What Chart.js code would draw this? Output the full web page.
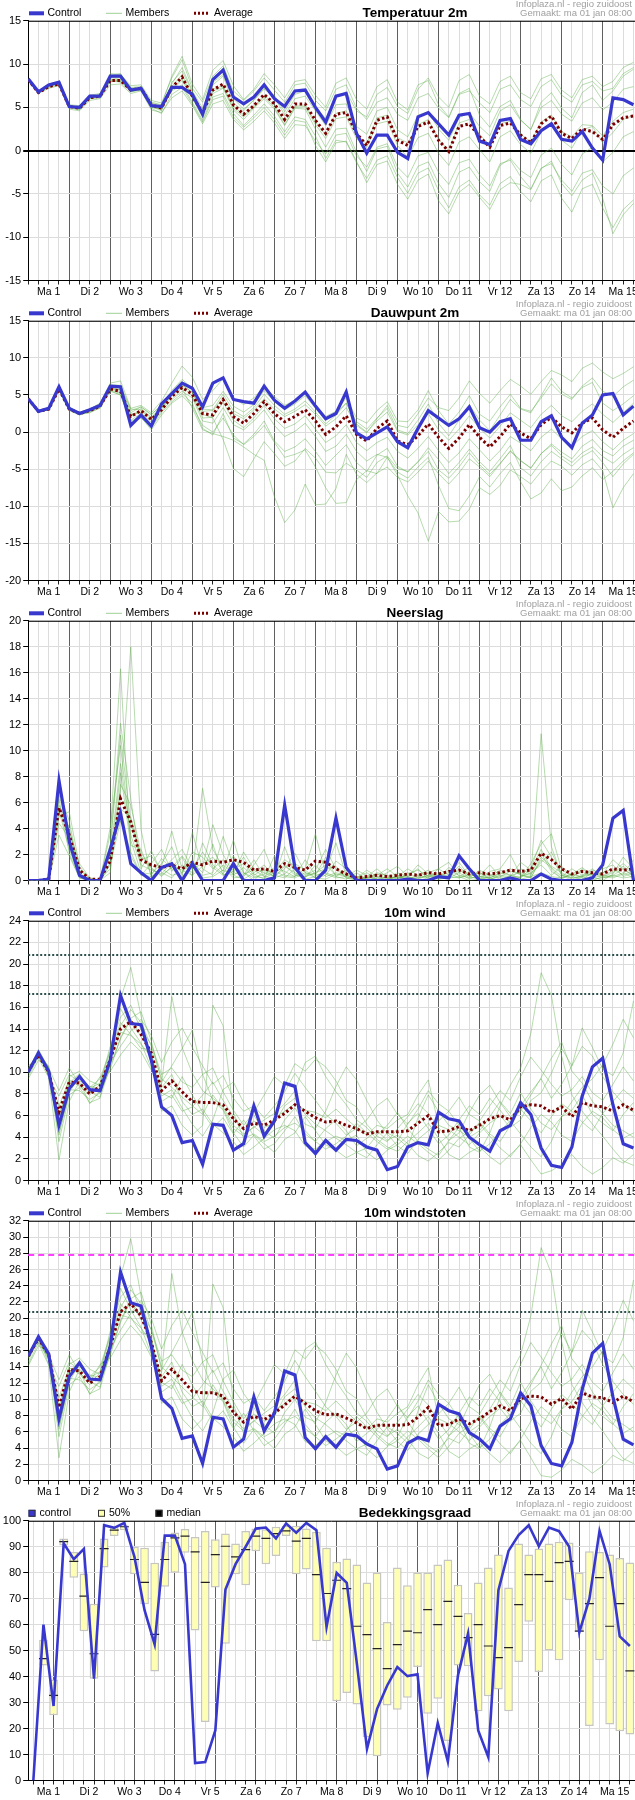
<!DOCTYPE html>
<html>
<head>
<meta charset="utf-8">
<title>Pluimverwachting</title>
<script src="https://cdn.jsdelivr.net/npm/chart.js@4.4.1/dist/chart.umd.min.js"></script>
<style>
body { margin: 0; background: #fff; }
canvas { display: block; }
</style>
</head>
<body>
<canvas id="temp" width="635" height="300"></canvas>
<canvas id="dew" width="635" height="300"></canvas>
<canvas id="rain" width="635" height="300"></canvas>
<canvas id="wind" width="635" height="300"></canvas>
<canvas id="gust" width="635" height="300"></canvas>
<canvas id="cloud" width="635" height="300"></canvas>
<script>
// 6-hourly steps, 4 per day, starting Ma 1 00h
const dayLabels = ['Ma 1', 'Di 2', 'Wo 3', 'Do 4', 'Vr 5', 'Za 6', 'Zo 7', 'Ma 8', 'Di 9', 'Wo 10', 'Do 11', 'Vr 12', 'Za 13', 'Zo 14', 'Ma 15'];

// Temperatuur 2m
const tempControl = [8.3,6.8,7.6,7.9, 5.1,5.0,6.3,6.3, 8.6,8.6,7.0,7.2, 5.2,5.1,7.3,7.3, 6.5,4.2,8.2,9.3, 6.2,5.4,6.2,7.6, 6.0,5.1,6.9,7.0, 5.0,3.3,6.3,6.6, 2.0,-0.3,1.8,1.8, -0.2,-0.9,3.9,4.4, 3.1,1.8,4.1,4.3, 1.1,0.7,3.5,3.7, 1.3,0.8,2.3,3.1, 1.3,1.1,2.2,0.3, -1.1,6.1,5.9,5.3];
const tempAverage = [8.2,6.7,7.4,7.7, 5.1,4.9,6.1,6.3, 8.1,8.1,7.0,7.2, 5.3,4.9,7.3,8.5, 6.3,4.4,7.0,7.7, 5.3,4.2,5.2,6.5, 5.4,3.6,5.4,5.4, 3.5,2.0,4.2,4.4, 2.0,0.6,3.5,3.9, 1.2,0.6,2.8,3.3, 1.2,-0.1,2.8,3.1, 1.6,0.4,2.9,3.2, 1.8,0.9,3.1,4.0, 2.0,1.4,2.5,2.2, 1.3,3.0,3.8,4.0];
const tempMembers = [
  [8.3,6.9,7.7,8.0, 5.3,5.2,6.4,6.6, 8.9,8.8,7.5,7.6, 5.8,5.5,8.4,10.5, 7.2,5.6,8.6,9.8, 6.9,5.8,6.9,8.4, 7.0,5.6,7.6,7.8, 5.8,4.6,7.1,7.6, 4.9,3.6,5.6,6.1, 4.2,3.5,6.1,6.6, 4.9,3.8,6.5,6.9, 5.5,4.4,7.1,7.6, 5.9,5.1,7.4,8.2, 6.4,5.6,7.6,8.0, 6.9,7.2,8.9,9.6],
  [8.1,6.6,7.2,7.5, 4.8,4.6,5.8,6.0, 7.6,7.7,6.6,6.9, 4.7,4.4,6.1,6.9, 5.2,3.1,5.4,5.8, 3.6,2.4,3.4,4.6, 3.2,1.4,3.0,2.9, 1.1,-0.4,1.8,2.0, -0.6,-1.9,0.4,0.8, -1.9,-3.1,-0.6,-0.2, -2.5,-3.9,-1.4,-1.0, -2.8,-4.1,-1.5,-1.1, -3.0,-4.4,-2.0,-1.5, -3.4,-4.7,-2.6,-2.2, -4.1,-5.0,-2.9,-2.0],
  [8.2,6.7,7.5,7.7, 5.0,4.8,6.2,6.2, 8.3,8.0,7.1,7.3, 5.1,4.6,7.9,9.2, 6.8,4.0,7.6,8.6, 5.5,4.6,5.9,7.1, 6.2,4.1,6.0,6.3, 4.6,2.9,5.3,5.4, 2.8,1.9,4.6,5.0, 2.4,1.6,4.1,4.5, 2.5,1.2,3.8,4.4, 2.8,1.7,4.6,5.3, 3.5,2.5,5.0,5.8, 4.2,3.4,5.5,6.1, 4.7,5.6,7.1,7.4],
  [8.3,6.8,7.4,7.8, 5.0,5.1,6.1,6.5, 8.0,8.3,6.9,7.0, 5.0,4.8,6.9,7.6, 5.6,3.5,6.2,6.6, 4.3,2.9,4.1,5.4, 4.0,2.2,3.9,3.6, 1.7,-0.9,1.2,1.0, -1.4,-3.2,-1.1,-0.6, -3.1,-4.9,-2.6,-2.0, -4.6,-6.6,-4.2,-3.4, -5.1,-6.3,-3.8,-3.0, -4.7,-5.9,-3.5,-2.8, -5.5,-7.1,-4.4,-3.9, -6.6,-8.9,-6.8,-5.7],
  [8.2,6.6,7.6,7.9, 5.2,4.9,6.0,6.3, 8.4,8.5,7.3,7.4, 5.5,5.2,7.7,9.6, 6.9,4.9,7.9,8.8, 6.0,4.8,5.8,7.2, 6.4,4.5,6.5,6.9, 5.1,3.7,6.2,6.8, 4.6,3.9,6.5,7.3, 5.1,4.3,7.1,8.4, 6.2,5.0,8.1,8.8, 6.3,5.4,8.0,8.6, 6.7,6.0,8.3,8.8, 7.0,6.1,8.2,8.6, 7.4,8.0,9.6,10.2],
  [8.2,6.7,7.3,7.6, 5.0,4.7,6.0,6.1, 8.2,8.1,6.8,7.1, 5.2,4.7,7.4,8.8, 6.1,3.8,6.6,7.2, 4.7,3.6,4.9,6.0, 4.8,2.9,5.0,5.1, 3.0,1.4,3.7,3.9, 1.4,0.4,3.1,3.4, 0.6,-0.8,1.5,2.0, -0.3,-1.7,1.0,1.6, 0.1,-1.3,1.6,2.3, 0.7,-0.3,2.2,3.0, 1.2,0.3,2.4,2.8, 0.9,2.1,3.6,4.1],
  [8.3,6.8,7.6,7.7, 5.1,5.0,6.4,6.4, 8.5,8.2,7.0,7.2, 5.4,4.9,7.0,8.1, 6.0,4.2,6.9,7.3, 4.9,3.9,5.0,6.2, 5.0,3.0,4.9,4.8, 2.5,0.4,2.5,2.6, -0.2,-2.4,0.2,0.5, -2.6,-4.2,-1.8,-1.3, -3.8,-5.4,-2.5,-1.9, -3.6,-4.7,-1.7,-0.9, -2.3,-3.1,-0.5,0.3, -1.6,-2.8,-0.4,0.4, -1.3,-0.2,1.6,2.2],
  [8.1,6.6,7.5,7.9, 5.2,4.9,6.3,6.4, 8.7,8.9,7.2,7.3, 5.6,5.3,8.6,10.9, 7.7,5.9,9.3,10.4, 7.5,5.9,7.1,8.9, 7.6,6.1,8.0,8.2, 6.4,5.0,7.8,8.4, 5.9,4.8,7.4,8.2, 5.6,4.7,7.6,8.1, 5.3,3.9,6.6,7.2, 4.1,2.7,5.1,5.8, 3.6,2.4,5.6,6.7, 4.9,3.8,6.7,7.6, 5.8,6.9,8.6,9.4],
  [8.2,6.7,7.5,7.8, 5.0,4.9,6.2,6.3, 8.0,8.0,6.9,7.2, 5.0,4.9,7.2,8.3, 6.3,4.5,7.1,7.5, 5.2,4.1,5.1,6.4, 5.3,3.3,5.1,5.3, 3.3,1.8,4.3,4.6, 1.8,0.8,3.8,4.1, 1.5,0.9,3.0,3.6, 1.3,0.0,3.2,3.6, 1.9,0.6,3.1,3.4, 1.9,1.0,3.3,4.1, 2.2,1.6,3.0,2.9, 1.7,3.4,4.4,4.8],
  [8.3,6.7,7.4,7.7, 5.1,4.8,6.1,6.2, 8.1,7.9,6.8,7.0, 4.9,4.3,6.5,7.3, 5.4,3.3,5.9,6.3, 3.9,2.7,3.8,5.0, 3.6,1.8,3.5,3.3, 0.6,-1.3,0.9,1.1, -1.2,-3.7,-1.6,-1.2, -3.9,-5.6,-3.4,-2.7, -5.8,-7.3,-4.8,-3.9, -5.4,-6.8,-4.5,-3.7, -3.9,-4.5,-2.1,-1.2, -3.8,-5.2,-3.4,-2.6, -5.5,-9.6,-7.4,-6.1]
];

// Dauwpunt 2m
const dewControl = [4.5,2.8,3.2,6.1, 3.2,2.5,3.0,3.6, 6.2,6.1,0.9,2.3, 0.8,3.8,5.2,6.6, 5.9,3.4,6.6,7.3, 4.4,4.1,3.9,6.2, 4.3,3.2,4.2,5.4, 3.5,1.8,2.5,5.4, -0.1,-0.9,-0.1,0.7, -1.3,-2.1,0.5,2.9, 1.9,0.9,1.8,3.4, 0.6,0.0,1.4,1.8, -1.1,-1.1,1.4,2.2, -0.7,-2.1,1.2,2.3, 5.0,5.2,2.3,3.5];
const dewAverage = [4.5,2.8,3.1,5.8, 3.1,2.5,2.9,3.5, 5.8,5.5,2.1,2.9, 1.7,3.0,4.8,6.0, 5.1,2.5,2.3,4.4, 2.1,1.2,2.5,4.1, 2.5,1.4,2.1,3.0, 1.5,-0.3,0.7,2.2, -0.3,-1.2,0.5,1.5, -1.2,-1.7,-0.5,1.1, -0.7,-2.2,-0.8,1.0, -0.7,-2.0,-0.6,1.1, -0.1,-0.9,1.0,2.0, 0.7,-0.1,1.2,1.9, 0.3,-0.7,0.5,1.5];
const dewMembers = [
  [4.6,2.9,3.3,6.3, 3.3,2.7,3.1,3.9, 6.6,6.9,3.2,3.6, 2.6,4.2,6.6,8.9, 7.4,4.4,5.6,7.2, 4.6,3.7,4.6,6.2, 4.8,3.6,4.3,5.4, 3.6,2.1,2.8,4.6, 1.9,1.2,2.9,4.1, 1.5,1.4,3.0,5.6, 2.9,1.1,2.7,4.9, 2.4,1.5,3.4,5.1, 3.2,2.8,4.6,6.5, 5.1,4.4,6.2,7.3, 5.5,4.8,6.1,7.0],
  [4.5,2.7,3.0,5.6, 2.9,2.3,2.7,3.2, 5.5,5.0,1.3,1.9, 0.6,2.6,4.1,5.2, 3.9,0.5,-0.4,2.5, -0.8,-1.6,-0.3,1.5, -1.2,-2.6,-2.0,-0.9, -2.6,-4.5,-3.1,-1.7, -4.1,-5.3,-3.1,-2.2, -4.6,-5.4,-4.0,-2.6, -5.1,-6.2,-4.7,-2.8, -4.4,-5.7,-4.2,-2.6, -3.9,-4.8,-2.9,-1.8, -3.2,-4.1,-2.8,-2.0, -3.3,-4.2,-3.0,-2.1],
  [4.4,2.8,3.2,5.9, 3.0,2.4,2.8,3.4, 5.9,5.3,2.4,2.6, 1.3,3.1,4.9,5.9, 3.2,0.3,-0.2,-0.6, -1.1,-2.0,-3.0,-3.8, -8.7,-12.2,-10.5,-7.0, -9.8,-9.7,-7.6,-3.0, -5.7,-6.8,-5.5,-4.7, -6.1,-6.7,-5.4,-3.9, -5.6,-7.0,-5.5,-3.6, -4.7,-6.0,-4.3,-2.5, -3.8,-4.9,-2.9,-1.6, -2.7,-3.6,-1.9,-1.0, -2.5,-3.2,-1.9,-1.1],
  [4.5,2.8,3.0,5.7, 3.1,2.6,3.0,3.4, 6.0,5.6,2.6,3.4, 2.4,3.6,5.4,6.8, 6.0,3.1,3.0,5.1, 2.9,2.1,3.3,5.1, 3.6,2.4,3.1,4.2, 2.7,1.1,2.3,3.9, 1.4,0.4,1.9,3.2, 0.3,-0.2,1.6,3.8, 1.2,-0.5,1.6,3.7, 1.6,0.2,2.3,4.4, 3.1,2.6,4.9,7.3, 5.5,4.6,6.0,6.7, 3.9,2.9,3.8,4.9],
  [4.6,2.9,3.1,5.8, 3.2,2.5,2.8,3.5, 5.7,5.2,1.6,2.5, 1.0,2.8,4.4,5.5, 4.6,1.5,1.2,3.3, 1.0,0.3,1.5,3.0, 0.9,-0.6,0.1,1.2, -0.6,-2.6,-1.9,-0.3, -2.6,-3.9,-3.0,-3.4, -5.8,-8.6,-10.9,-14.7, -10.7,-12.1,-12.0,-10.4, -7.5,-8.4,-7.2,-5.1, -6.0,-7.0,-5.3,-3.9, -4.6,-5.8,-4.4,-3.6, -5.2,-10.2,-7.5,-5.6],
  [4.5,2.8,3.2,6.0, 3.2,2.6,3.1,3.7, 6.3,6.1,2.9,3.4, 2.3,3.7,5.6,7.1, 5.9,3.3,3.6,5.5, 3.5,2.7,3.7,5.6, 4.1,3.0,3.8,4.9, 3.2,1.6,2.6,3.9, 1.1,0.0,1.5,2.7, 0.1,-0.4,1.0,2.5, 0.3,-1.1,0.4,2.2, 0.5,-0.8,0.8,2.6, 1.6,0.6,2.4,3.6, 2.2,1.4,2.8,3.8, 2.4,1.3,2.6,3.9],
  [4.4,2.7,3.1,5.9, 3.0,2.4,2.9,3.6, 5.8,5.7,2.0,3.2, 2.0,3.4,5.1,6.3, 5.4,2.8,2.9,4.6, 2.5,1.8,3.0,4.5, 3.1,2.1,2.8,3.7, 2.4,0.8,1.8,3.3, 0.9,-0.1,1.8,3.6, 0.9,0.6,2.5,4.6, 3.3,2.9,4.6,6.9, 5.2,3.9,5.6,7.1, 6.2,5.1,6.8,8.3, 7.7,6.8,8.6,9.3, 8.1,7.2,7.9,8.8],
  [4.5,2.8,3.1,5.7, 3.0,2.4,2.6,3.3, 5.6,5.0,1.5,2.0, 0.3,2.3,3.9,4.9, 3.5,0.9,0.0,1.9, -0.4,-1.7,-0.6,0.9, -1.4,-3.4,-3.0,-2.4, -4.7,-7.5,-9.6,-9.5, -6.4,-5.2,-5.6,-3.4, -5.4,-6.2,-4.7,-3.4, -7.2,-10.3,-10.6,-8.6, -6.0,-7.4,-5.6,-4.1, -6.7,-9.0,-8.2,-6.3, -7.9,-7.4,-5.9,-4.8, -6.4,-5.3,-3.9,-2.8],
  [4.6,2.9,3.3,6.2, 3.3,2.6,3.1,3.8, 6.4,6.3,3.1,3.0, 1.9,3.3,5.0,6.1, 4.9,1.9,2.0,4.0, 1.6,0.6,1.9,3.6, 1.8,0.5,1.1,2.2, 0.4,-1.4,-0.5,1.0, -1.4,-2.5,-1.4,-0.7, -2.6,-3.5,-2.2,-0.6, -2.5,-4.1,-2.8,-0.9, -2.4,-3.9,-2.5,-0.6, -1.5,-2.5,-0.7,0.4, -0.9,-1.9,-0.6,0.2, -1.3,-2.4,-1.1,-0.2],
  [4.5,2.7,3.0,5.8, 3.1,2.5,3.0,3.6, 6.1,5.7,2.2,2.9, 1.6,3.2,5.3,6.4, 5.3,2.4,1.9,-1.0, -4.9,-6.0,-3.6,-1.3, -2.9,-4.6,-3.9,-2.2, -3.5,-5.4,-5.5,-4.2, -5.1,-6.1,-4.1,-3.2, -4.9,-5.3,-4.0,-2.1, -3.7,-5.6,-4.1,-2.3, -4.0,-5.3,-3.6,-1.8, -4.8,-5.9,-4.0,-2.6, -3.6,-4.6,-3.3,-2.5, -4.1,-6.0,-4.3,-3.0]
];

// Neerslag
const rainControl = [0,0,0.1,7.7, 3.0,0.4,0,0, 2.4,5.2,1.3,0.6, 0,1.0,1.3,0, 1.3,0,0,0, 1.3,0,0,0, 0.2,5.8,1.0,0, 0,0.8,4.8,1.0, 0,0,0,0, 0,0.1,0,0, 0.3,0.2,1.9,0.9, 0,0,0,0.2, 0,0,0.5,0.1, 0,0,0,0.2, 1.2,4.8,5.4,0];
const rainAverage = [0,0,0.1,5.6, 3.5,0.8,0.1,0.1, 1.5,6.3,4.5,1.6, 1.2,1.0,1.2,0.9, 1.4,1.2,1.5,1.4, 1.6,1.4,0.8,0.9, 0.7,1.3,1.0,0.8, 1.5,1.4,0.9,0.5, 0.2,0.3,0.4,0.3, 0.4,0.5,0.4,0.6, 0.5,0.7,0.8,0.5, 0.6,0.5,0.6,0.8, 0.7,0.8,2.1,1.6, 0.9,0.5,0.7,0.6, 0.5,0.9,0.8,0.9];
const rainMembers = [
  [0,0,0.1,5.8, 4.1,0.6,0,0, 1.9,9.0,3.5,1.2, 0.8,0.5,1.4,0.6, 2.2,1.8,0.9,1.6, 0.4,1.0,0.3,0.2, 0.6,1.6,1.1,0.4, 0.8,2.4,0.9,0.2, 0,0.3,0.9,0.2, 0,0.5,0.8,0.3, 0.2,0.4,1.1,0.3, 0.6,0.2,0,0.4, 0.2,0.9,3.1,1.8, 0.4,0,0.3,0.8, 0.5,1.6,0.9,0.4],
  [0,0,0,8.1, 2.7,0.3,0.1,0, 3.6,16.3,1.9,0.4, 1.3,2.4,0.7,1.8, 0.3,2.9,1.2,0.5, 1.9,0.6,0,0.8, 0.3,0.9,2.1,0.6, 0.2,0.4,1.5,0.9, 0.3,0,0.2,0.6, 1.1,0.3,0,0.2, 0.9,1.4,0.3,0, 0.1,0.7,0.9,2.0, 0.4,0.3,11.3,2.6, 0.4,0.2,0.9,0.3, 0,0.5,1.8,0.9],
  [0,0,0.2,4.9, 5.3,1.1,0,0.1, 0.9,6.8,18.0,3.9, 0.2,1.1,3.8,0.9, 1.4,0.6,2.8,0.4, 0.7,1.8,0.5,0.1, 1.9,0.4,0.3,0.9, 3.6,0.5,0.2,0.3, 0.8,0.4,0,0.1, 0.3,0.9,0.4,0.8, 0.1,0.2,0.6,1.0, 0.2,0.1,0.4,0.3, 1.4,0.8,2.4,0.9, 0.1,0.6,0.2,0, 0.3,0.2,0.5,1.6],
  [0,0,0,6.3, 2.1,0.2,0,0, 2.8,12.1,6.3,0.9, 2.3,0.6,0.2,1.2, 0.6,7.1,2.4,1.0, 0.2,0.3,1.2,2.4, 0.4,0.2,0.9,0.3, 0.6,1.2,0.4,0.6, 0.1,0.2,0.4,0.9, 0.3,0.1,0.2,0.4, 0.5,0.3,0.9,0.2, 0.8,0.4,0.1,0.2, 0.3,0.6,1.2,0.4, 1.1,0.3,0.1,0.6, 0.2,0.4,0.9,0.3],
  [0,0,0.1,7.2, 3.6,0.8,0.2,0, 1.4,8.3,2.7,2.4, 0.4,1.7,0.9,0.3, 1.1,0.4,0.6,3.4, 1.2,0.5,0.8,0.3, 0.2,2.6,0.5,0.1, 0.3,0.8,2.9,0.4, 0.2,0.6,0.1,0.3, 0.2,0.4,0.9,0.1, 0.3,0.6,0.2,0.5, 0.3,0.2,0.6,0.4, 0.2,1.3,2.8,3.6, 0.8,0.4,0.7,0.2, 0.4,0.3,0.6,0.2],
  [0,0,0,4.4, 3.3,0.4,0,0, 2.2,5.5,4.9,1.6, 1.9,0.8,1.6,2.4, 0.9,1.3,1.8,0.7, 3.1,0.6,0.2,0.5, 1.0,0.7,0.3,1.6, 0.4,0.6,0.3,0.1, 0.6,0.1,0.3,0.2, 0.6,0.3,1.2,0.5, 0.2,1.0,0.6,0.1, 0.4,1.2,0.3,0.7, 0.5,0.2,1.6,1.0, 0.3,0.9,0.4,0.5, 0.9,1.2,0.3,0.6],
  [0,0,0.1,6.8, 4.6,0.5,0.1,0, 4.1,10.4,3.1,0.6, 0.5,1.3,2.6,0.4, 3.7,0.9,0.4,1.2, 0.5,2.2,0.9,0.6, 0.3,1.1,0.6,0.2, 1.2,0.3,0.6,0.4, 0.2,0.8,0.3,0, 0.4,0.2,0.3,0.6, 0.9,0.4,1.4,0.3, 0.1,0.3,0.8,0.4, 0.6,0.4,2.1,0.7, 0.2,0.5,1.0,0.4, 0.6,0.9,0.4,0.8],
  [0,0,0,5.4, 2.4,0.3,0,0, 0.6,7.4,5.8,2.1, 1.0,0.3,1.1,0.8, 0.4,1.1,4.3,2.0, 0.6,0.4,1.6,0.3, 0.8,0.3,0.2,0.6, 0.4,1.8,0.3,0.8, 0.3,0.1,0.6,0.4, 0.1,0.6,0.2,0.3, 0.4,0.2,0.3,0.7, 0.3,0.5,0.2,0.1, 0.9,0.5,1.4,2.2, 0.5,0.1,0.4,0.9, 0.3,0.6,1.1,0.5],
  [0,0,0,3.5, 1.9,0.2,0,0, 1.2,4.6,2.2,0.4, 0.3,0.9,0.4,0.6, 1.6,0.2,0.3,0.8, 0.4,0.1,0.6,1.2, 0.2,0.5,1.3,0.8, 0.2,0.1,0.5,0.3, 0.1,0.3,0.1,0.2, 0.3,0.1,0.4,0.2, 0.1,0.3,0.2,0.4, 0.6,0.1,0.3,0.2, 0.1,0.3,0.6,0.3, 0.2,0.4,0.3,0.1, 0.2,0.4,0.2,0.3],
  [0,0,0,6.6, 3.8,1.3,0.2,0, 2.6,11.2,4.4,1.9, 0.9,0.4,1.0,1.9, 0.8,2.2,1.0,0.4, 0.9,1.3,0.4,0.9, 0.5,1.2,0.4,0.3, 0.6,0.9,1.1,0.2, 0.1,0.2,0.5,0.1, 0.2,0.3,0.1,0.4, 0.2,0.8,0.4,0.2, 0.3,0.2,0.5,0.9, 0.4,0.2,1.8,1.1, 0.6,0.2,0.3,0.5, 0.4,0.7,1.3,0.6]
];

// 10m wind
const windControl = [10.0,11.8,10.1,5.1, 8.5,9.6,8.4,8.3, 11.1,17.1,14.5,14.4, 11.1,6.8,6.0,3.5, 3.7,1.5,5.2,5.1, 2.8,3.4,6.9,4.1, 5.5,9.0,8.7,3.5, 2.5,3.7,2.8,3.8, 3.7,3.1,2.8,1.0, 1.3,3.1,3.5,3.3, 6.3,5.7,5.5,4.0, 3.3,2.7,4.6,5.1, 7.2,6.1,3.0,1.4, 1.2,3.1,7.8,10.5, 11.3,7.0,3.4,3.0];
const windAverage = [10.1,11.6,10.0,6.3, 9.1,9.0,8.0,8.7, 11.2,14.0,14.7,13.5, 11.8,8.3,9.2,8.2, 7.3,7.2,7.2,7.0, 5.7,4.8,5.3,5.1, 5.6,6.2,7.0,6.4, 5.8,5.4,5.5,5.1, 4.8,4.3,4.5,4.5, 4.5,4.6,5.3,6.0, 4.5,4.6,5.0,4.6, 5.1,5.7,6.0,5.6, 6.8,7.0,6.9,6.3, 6.8,5.9,7.2,6.9, 6.8,6.4,7.0,6.5];
const windMembers = [
  [10.2,11.5,9.8,6.9, 9.3,8.7,7.9,8.9, 12.4,15.1,16.2,13.9, 12.6,9.8,10.4,9.1, 8.6,9.8,10.4,8.2, 6.5,5.1,6.3,7.9, 9.6,8.8,10.8,10.1, 11.2,10.5,9.2,7.4, 6.8,5.2,4.1,3.6, 4.8,5.9,7.1,6.2, 4.9,3.7,4.4,6.3, 7.9,8.8,7.2,5.9, 6.4,7.9,9.5,11.3, 12.8,10.1,9.0,7.3, 6.2,5.1,4.6,4.0],
  [9.4,11.1,10.6,4.2, 8.4,8.3,7.5,8.1, 10.3,13.2,15.0,15.6, 12.9,9.1,10.6,12.2, 13.9,9.8,7.4,6.5, 4.4,3.1,4.2,3.4, 2.6,3.8,4.4,5.9, 4.6,3.3,2.8,2.1, 2.6,3.0,4.2,5.1, 6.3,4.8,3.6,2.9, 2.3,3.7,4.9,3.1, 2.6,4.4,6.9,8.8, 10.4,13.6,19.2,17.1, 11.5,7.9,6.4,5.2, 4.1,2.9,1.8,1.4],
  [10.4,11.9,9.6,1.9, 7.3,9.2,8.6,9.4, 12.0,16.8,19.7,15.2, 11.0,7.8,8.4,6.7, 5.2,4.1,5.6,8.4, 9.1,7.2,6.0,4.6, 3.9,5.6,6.7,5.2, 4.8,6.4,8.7,10.5, 9.3,7.4,5.6,4.3, 3.2,2.5,3.8,4.6, 5.5,6.4,5.1,3.9, 2.7,3.4,4.6,5.5, 4.3,3.1,2.2,3.6, 5.9,7.3,8.6,9.4, 10.7,12.6,14.9,13.2],
  [10.0,11.7,10.3,5.6, 9.0,9.9,8.2,7.7, 11.6,15.9,14.1,12.7, 10.4,8.6,9.8,7.3, 6.1,6.6,5.2,4.4, 3.6,2.4,3.1,3.9, 4.7,5.1,4.6,3.2, 2.9,3.6,4.1,3.7, 4.2,2.6,1.9,2.8, 3.3,4.1,3.4,2.6, 1.9,2.8,3.9,4.5, 5.2,4.1,3.0,2.2, 3.4,4.9,6.1,5.4, 4.2,3.6,5.3,6.4, 5.8,4.7,3.9,4.4],
  [10.6,11.3,9.5,7.8, 9.8,9.1,7.1,8.3, 10.9,12.4,13.8,14.9, 13.4,10.9,12.8,14.1, 12.3,10.6,8.9,9.7, 7.6,6.4,6.9,5.8, 6.9,8.2,9.9,8.6, 7.4,6.1,5.3,4.2, 4.8,5.6,6.9,7.6, 6.1,5.2,6.6,8.3, 7.1,6.4,7.7,6.1, 5.5,6.9,8.3,7.4, 9.6,11.4,10.2,8.9, 7.8,8.4,9.6,8.1, 7.4,8.9,10.5,9.2],
  [9.8,11.9,10.2,6.1, 8.9,9.4,8.7,8.5, 11.3,13.7,13.4,12.6, 11.4,7.3,7.9,6.4, 6.8,7.9,9.1,7.4, 5.9,4.7,5.5,4.9, 5.3,6.9,7.6,6.1, 5.2,4.6,3.9,3.3, 2.6,2.1,3.3,4.4, 3.9,3.1,5.8,7.9, 6.4,5.1,4.6,4.0, 4.6,5.9,7.3,6.2, 8.1,6.6,5.3,4.7, 5.9,6.5,7.9,6.1, 5.3,4.6,6.1,7.2],
  [10.1,12.1,10.4,8.3, 10.4,8.9,8.1,9.6, 10.1,11.6,12.8,11.9, 10.2,8.9,17.0,12.3, 9.9,8.3,7.6,6.8, 5.1,4.3,4.9,5.6, 6.2,7.1,8.3,10.9, 11.5,9.6,8.2,7.0, 5.6,4.9,3.8,3.1, 2.7,3.6,4.4,5.3, 3.9,2.4,1.9,2.6, 3.1,2.2,1.5,2.4, 3.3,1.9,0.6,0.9, 1.5,2.4,1.3,0.6, 1.2,2.1,1.6,2.4],
  [10.3,11.6,9.9,4.4, 8.1,9.7,8.5,9.0, 11.9,14.6,13.5,12.2, 12.1,6.4,6.9,5.1, 4.2,5.1,16.2,14.3, 6.3,3.9,4.3,3.6, 4.1,4.9,5.3,4.6, 3.6,2.9,3.4,4.1, 5.3,4.4,3.6,2.9, 3.6,5.3,6.2,4.8, 3.4,4.2,5.6,6.9, 6.1,7.6,6.5,5.3, 6.9,8.2,9.4,7.6, 8.9,10.6,12.4,11.5, 9.6,8.2,7.1,6.3],
  [9.6,11.4,10.1,3.6, 7.9,8.6,7.2,7.6, 10.6,13.1,14.9,13.3, 11.7,8.1,7.6,9.6, 7.9,6.3,4.9,5.8, 4.3,5.6,4.1,2.9, 3.4,4.6,5.9,4.3, 3.6,4.8,5.6,4.6, 3.2,3.9,4.6,3.7, 4.2,3.4,2.3,1.8, 2.6,3.5,3.1,4.2, 5.4,4.3,3.6,5.1, 6.6,5.5,4.4,5.9, 7.1,6.4,5.4,4.6, 6.2,7.3,8.4,7.6],
  [10.2,11.8,10.5,5.3, 9.6,10.1,9.2,8.8, 11.4,14.3,15.8,14.6, 12.4,9.4,8.6,7.7, 6.9,6.1,7.9,6.6, 4.8,4.1,5.0,4.2, 5.8,6.4,7.1,6.5, 6.3,5.8,6.6,5.7, 4.9,4.2,5.1,4.8, 5.6,6.1,7.9,9.3, 5.1,4.7,4.0,3.3, 4.4,5.3,6.0,4.9, 5.6,7.4,8.1,9.9, 12.2,10.6,14.1,12.3, 10.3,9.7,11.8,16.6]
];
const windThresholds = [17.2, 20.8];

// 10m windstoten
const gustControl = [15.3,17.7,15.6,7.6, 12.8,14.5,12.5,12.4, 16.5,25.7,21.9,21.5, 16.5,10.1,8.9,5.2, 5.5,2.1,7.8,7.6, 4.1,5.1,10.3,6.1, 8.3,13.5,13.0,5.3, 3.9,5.4,4.1,5.7, 5.5,4.5,3.9,1.4, 1.8,4.6,5.3,4.9, 9.4,8.6,8.2,5.9, 5.1,3.9,6.7,7.6, 10.8,9.2,4.3,2.1, 1.8,4.7,11.2,15.7, 16.9,10.3,5.1,4.4];
const gustAverage = [15.3,17.5,15.5,9.0, 13.7,13.5,12.0,12.8, 16.5,20.8,21.8,20.3, 17.0,12.3,13.7,12.4, 11.0,10.8,10.8,10.4, 8.4,7.2,7.9,7.5, 8.3,9.3,10.4,9.5, 8.6,8.1,8.2,7.7, 7.1,6.4,6.8,6.8, 6.8,6.9,7.8,9.0, 6.8,6.9,7.6,7.0, 7.6,8.5,9.2,8.6, 10.1,10.4,10.3,9.4, 10.1,8.8,10.8,10.3, 10.2,9.6,10.4,9.7];
const gustMembers = [
  [15.5,17.3,15.1,10.2, 13.9,13.1,11.8,13.3, 18.4,22.6,24.1,20.7, 18.6,14.7,15.5,13.6, 12.8,14.6,15.5,12.3, 9.7,7.6,9.4,11.8, 14.3,13.1,16.1,15.0, 16.7,15.6,13.7,11.0, 10.1,7.8,6.1,5.4, 7.2,8.8,10.6,9.3, 7.3,5.5,6.6,9.4, 11.8,13.1,10.7,8.8, 9.6,11.8,14.2,16.8, 19.1,15.0,13.4,10.9, 9.2,7.6,6.9,6.0],
  [14.1,16.6,15.8,6.3, 12.6,12.4,11.2,12.1, 15.4,19.7,22.4,23.2, 19.2,13.6,15.8,18.2, 20.7,14.6,11.0,9.7, 6.6,4.6,6.3,5.1, 3.9,5.7,6.6,8.8, 6.9,4.9,4.2,3.1, 3.9,4.5,6.3,7.6, 9.4,7.2,5.4,4.3, 3.4,5.5,7.3,4.6, 3.9,6.6,10.3,13.1, 15.5,20.3,28.7,25.5, 17.1,11.8,9.6,7.7, 6.1,4.3,2.7,2.1],
  [15.6,17.8,14.3,2.8, 10.9,13.7,12.8,14.0, 17.9,25.1,29.8,22.7, 16.4,11.6,12.5,10.0, 7.7,6.1,8.4,12.5, 13.6,10.7,9.0,6.9, 5.8,8.4,10.0,7.8, 7.2,9.6,13.0,15.7, 13.9,11.0,8.4,6.4, 4.8,3.7,5.7,6.9, 8.2,9.5,7.6,5.8, 4.0,5.1,6.9,8.2, 6.4,4.6,3.3,5.4, 8.8,10.9,12.8,14.0, 16.0,18.8,22.2,19.7],
  [15.0,17.4,15.4,8.3, 13.4,14.7,12.2,11.5, 17.3,23.7,21.0,18.9, 15.5,12.8,14.6,10.9, 9.1,9.8,7.7,6.6, 5.4,3.6,4.6,5.8, 7.0,7.6,6.9,4.8, 4.3,5.4,6.1,5.5, 6.3,3.9,2.8,4.2, 4.9,6.1,5.1,3.9, 2.8,4.2,5.8,6.7, 7.8,6.1,4.5,3.3, 5.1,7.3,9.1,8.0, 6.3,5.4,7.9,9.5, 8.6,7.0,5.8,6.6],
  [15.8,16.9,14.2,11.6, 14.6,13.6,10.6,12.4, 16.2,18.5,20.6,22.2, 20.0,16.2,19.1,21.0, 18.3,15.8,13.3,14.5, 11.3,9.5,10.3,8.6, 10.3,12.2,14.8,12.8, 11.0,9.1,7.9,6.3, 7.2,8.3,10.3,11.3, 9.1,7.7,9.8,12.4, 10.6,9.5,11.5,9.1, 8.2,10.3,12.4,11.0, 14.3,17.0,15.2,13.3, 11.6,12.5,14.3,12.1, 11.0,13.3,15.6,13.7],
  [14.6,17.7,15.2,9.1, 13.3,14.0,13.0,12.7, 16.8,20.4,20.0,18.8, 17.0,10.9,11.8,9.5, 10.1,11.8,13.6,11.0, 8.8,7.0,8.2,7.3, 7.9,10.3,11.3,9.1, 7.7,6.9,5.8,4.9, 3.9,3.1,4.9,6.6, 5.8,4.6,8.6,11.8, 9.5,7.6,6.9,6.0, 6.9,8.8,10.9,9.2, 12.1,9.8,7.9,7.0, 8.8,9.7,11.8,9.1, 7.9,6.9,9.1,10.7],
  [15.1,18.0,15.5,12.4, 15.5,13.3,12.1,14.3, 15.1,17.3,19.1,17.7, 15.2,13.3,25.5,18.3, 14.8,12.4,11.3,10.1, 7.6,6.4,7.3,8.3, 9.2,10.6,12.4,16.2, 17.1,14.3,12.2,10.4, 8.3,7.3,5.7,4.6, 4.0,5.4,6.6,7.9, 5.8,3.6,2.8,3.9, 4.6,3.3,2.2,3.6, 4.9,2.8,0.6,0.4, 1.3,2.6,1.9,0.9, 1.8,3.1,2.4,3.6],
  [15.4,17.3,14.8,6.6, 12.1,14.5,12.7,13.4, 17.7,21.8,20.1,18.2, 18.0,9.5,10.3,7.6, 6.3,7.6,24.2,21.3, 9.4,5.8,6.4,5.4, 6.1,7.3,7.9,6.9, 5.4,4.3,5.1,6.1, 7.9,6.6,5.4,4.3, 5.4,7.9,9.2,7.2, 5.1,6.3,8.3,10.3, 9.1,11.3,9.7,7.9, 10.3,12.2,14.0,11.3, 13.3,15.8,18.5,17.1, 14.3,12.2,10.6,9.4],
  [14.3,17.0,15.1,5.4, 11.8,12.8,10.7,11.3, 15.8,19.5,22.2,19.8, 17.4,12.1,11.3,14.3, 11.8,9.4,7.3,8.6, 6.4,8.3,6.1,4.3, 5.1,6.9,8.8,6.4, 5.4,7.2,8.3,6.9, 4.8,5.8,6.9,5.5, 6.3,5.1,3.4,2.7, 3.9,5.2,4.6,6.3, 8.0,6.4,5.4,7.6, 9.8,8.2,6.6,8.8, 10.6,9.5,8.0,6.9, 9.2,10.9,12.5,11.3],
  [15.2,17.6,15.7,7.9, 14.3,15.1,13.7,13.1, 17.0,21.3,23.5,21.8, 18.5,14.0,12.8,11.5, 10.3,9.1,11.8,9.8, 7.2,6.1,7.4,6.3, 8.6,9.5,10.6,9.7, 9.4,8.6,9.8,8.5, 7.3,6.3,7.6,7.2, 8.3,9.1,11.8,13.9, 7.6,7.0,6.0,4.9, 6.6,7.9,8.9,7.3, 8.3,11.0,12.1,14.8, 18.2,15.8,21.0,18.3, 15.4,14.5,17.6,24.7]
];
const gustThresholds = [20.8, 27.8];

// Bedekkingsgraad (step 0 has no box)
const cloudControl = [0,60,28.7,91.3, 85.2,89.2,39.2,98.3, 97.3,99.2,86.1,65.6, 52.4,94.3,94.3,83.3, 6.7,7.1,19.3,73.5, 83.3,90,97,97.4, 93.2,99,95.4,99.2, 96.4,59.1,79.9,76.1, 45,12.2,27.6,36.6, 43.7,40.2,40.9,2.8, 22.1,7.3,40.5,56.6, 19.3,9,73.3,88.4, 94.5,98.3,90.2,97.4, 96,90,57,70, 96.1,83.3,55.5,51.8];
const cloudHigh = [null,54.2,38.9,93.2, 88,79.7,68.1,93.2, 97.7,98.3,90,89.6, 83.8,91.9,95.5,96.8, 93.8,96.1,92.9,95.1, 91.3,96.1,97,96.7, 97.7,98.1,98.1,97, 95.8,89.6,84.2,85.5, 83.2,76.2,80.1,61, 82,75.2,80.1,80.1, 83.2,85.1,75.4,64.5, 76.2,82,87,74.3, 91.3,87,89.3,91.3, 91.9,91.6,80.1,88.3, 88,87,85.7,83.9];
const cloudLow = [null,44.3,25.1,90.5, 78.1,57.5,39.2,82, 94.1,96.4,79.4,67.9, 42,74.6,80,87.7, 57.8,22.5,74.3,52.7, 79.4,75.2,88.3,83.3, 86.4,94.1,79.4,81.2, 53.6,53.6,30.5,33.7, 29.3,16.7,9.3,28.9, 27.2,31.9,43.7,25.7, 31.5,15.2,44.3,44, 26.7,32.4,35,26.7, 45.6,61.1,41.8,50.1, 46.3,69.4,57.5,21, 46.3,21.6,19,17.7];
const cloudMedian = [null,46.9,32.8,92, 84.4,71,48.8,89.3, 96.4,97.7,85.1,76.3, 56.3,85.1,93.4,94.1, 88,76.3,87,90.2, 86.1,88.9,94.1,93.2, 95.1,96.1,92.2,93.2, 79.3,72,77.1,73.9, 59.4,56.2,50.8,43.1, 52.3,57.5,56.9,65.8, 60,69,63.2,55, 60,51.8,47.3,51.2, 67.7,79.3,79.3,76.7, 83.9,84.4,57.5,68.1, 78.1,59.4,68.1,42.2];

const FONT = '"Liberation Sans", Arial, sans-serif';
const controlColor = '#3838cf';
const memberColor = 'rgba(95,175,75,0.45)';
const averageColor = '#7a0000';
const lightGrid = '#dcdcdc';
const dayGrid = '#606060';

Chart.defaults.font.family = FONT;
Chart.defaults.font.size = 11;
Chart.defaults.color = '#000';

const headerPlugin = {
    id: 'header',
    afterDraw(chart, args, opts) {
        const ctx = chart.ctx;
        const area = chart.chartArea;
        ctx.save();
        ctx.strokeStyle = '#000';
        ctx.lineWidth = 1;
        ctx.beginPath();
        ctx.moveTo(area.left, area.top + 0.5);
        ctx.lineTo(area.right, area.top + 0.5);
        ctx.stroke();

        ctx.fillStyle = '#000';
        ctx.font = 'bold 13.5px ' + FONT;
        ctx.textAlign = 'center';
        ctx.textBaseline = 'middle';
        ctx.fillText(opts.title, 415, 13);

        ctx.fillStyle = '#a0a0a0';
        ctx.font = '9.5px ' + FONT;
        ctx.textAlign = 'right';
        ctx.fillText('Infoplaza.nl - regio zuidoost', 632, 4);
        ctx.fillText('Gemaakt: ma 01 jan 08:00', 632, 13.5);

        ctx.textAlign = 'left';
        ctx.fillStyle = '#000';
        ctx.font = '10.5px ' + FONT;
        const y = 13.3;
        if (opts.kind === 'cloud') {
            const boxes = [[28.5, controlColor, 'control'], [98, '#ffffb0', '50%'], [155.5, '#000', 'median']];
            boxes.forEach(([x, col, txt]) => {
                ctx.fillStyle = col;
                ctx.fillRect(x, y - 3.5, 7, 7);
                ctx.strokeStyle = '#333';
                ctx.lineWidth = 1;
                ctx.strokeRect(x + 0.5, y - 3, 6, 6);
                ctx.fillStyle = '#000';
                ctx.fillText(txt, x + 11, y);
            });
        } else {
            ctx.lineCap = 'butt';
            ctx.strokeStyle = controlColor;
            ctx.lineWidth = 4;
            ctx.beginPath(); ctx.moveTo(29, y); ctx.lineTo(44, y); ctx.stroke();
            ctx.strokeStyle = 'rgba(95,175,75,0.6)';
            ctx.lineWidth = 1;
            ctx.beginPath(); ctx.moveTo(106, y); ctx.lineTo(122, y); ctx.stroke();
            ctx.strokeStyle = averageColor;
            ctx.lineWidth = 3;
            ctx.setLineDash([2, 2]);
            ctx.beginPath(); ctx.moveTo(194, y); ctx.lineTo(209, y); ctx.stroke();
            ctx.setLineDash([]);
            ctx.fillText('Control', 47.5, y);
            ctx.fillText('Members', 125.5, y);
            ctx.fillText('Average', 214, y);
        }
        ctx.restore();
    }
};

const refLinePlugin = {
    id: 'refLines',
    beforeDatasetsDraw(chart, args, opts) {
        const lines = opts.lines || [];
        const ctx = chart.ctx;
        const area = chart.chartArea;
        const yScale = chart.scales.y;
        ctx.save();
        lines.forEach(l => {
            const y = Math.round(yScale.getPixelForValue(l.value));
            ctx.strokeStyle = l.color;
            ctx.lineWidth = 2;
            ctx.setLineDash(l.dash);
            ctx.beginPath();
            ctx.moveTo(area.left, y);
            ctx.lineTo(area.right, y);
            ctx.stroke();
        });
        ctx.restore();
    }
};

function toPoints(arr) {
    return arr.map((v, i) => ({ x: i, y: v }));
}

function yAxis(min, max, step, zeroLine) {
    return {
        min: min, max: max,
        afterFit: s => { s.width = 28.2; },
        ticks: { stepSize: step, padding: 2, font: { size: 11 } },
        grid: {
            color: c => (zeroLine && c.tick && c.tick.value === 0) ? '#000' : lightGrid,
            lineWidth: c => (zeroLine && c.tick && c.tick.value === 0) ? 2 : 1,
            tickLength: 5,
            tickColor: '#000'
        },
        border: { color: '#000', width: 1 }
    };
}

function xAxis(max, tickValues, labelAt, darkAt) {
    return {
        type: 'linear',
        min: 0, max: max,
        afterFit: s => { s.height = 19.5; },
        afterBuildTicks: s => { s.ticks = tickValues.map(v => ({ value: v })); },
        ticks: {
            autoSkip: false, maxRotation: 0, minRotation: 0, padding: 1,
            font: { size: 10.5 },
            callback: v => labelAt(v)
        },
        grid: {
            color: c => (c.tick && darkAt(c.tick.value)) ? dayGrid : lightGrid,
            tickLength: 4,
            tickColor: '#222'
        },
        border: { color: '#000', width: 1 }
    };
}

const steps = cloudControl.map((v, i) => i);
const ensTicks = steps;
const ensLabel = v => (v % 4 === 2) ? dayLabels[(v - 2) / 4] : '';
const ensDark = v => v % 4 === 0;

function ensembleChart(id, title, control, average, members, yMin, yMax, yStep, opts) {
    opts = opts || {};
    const datasets = [
        { data: toPoints(control), borderColor: controlColor, borderWidth: 3.2, order: 0 },
        { data: toPoints(average), borderColor: averageColor, borderWidth: 3, borderDash: [2.5, 2.5], order: 1 }
    ];
    members.forEach(m => {
        datasets.push({ data: toPoints(m), borderColor: memberColor, borderWidth: 1, order: 2 });
    });
    new Chart(document.getElementById(id), {
        type: 'line',
        data: { datasets: datasets },
        options: {
            responsive: false,
            animation: false,
            layout: { padding: { top: 20.8, right: 0, left: 0, bottom: 0 }, autoPadding: false },
            elements: { point: { radius: 0 }, line: { tension: 0, fill: false } },
            scales: {
                x: xAxis(59.15, ensTicks, ensLabel, ensDark),
                y: yAxis(yMin, yMax, yStep, opts.zeroLine)
            },
            plugins: {
                legend: { display: false },
                tooltip: { enabled: false },
                header: { title: title, kind: 'ens' },
                refLines: { lines: opts.lines || [] }
            }
        },
        plugins: [refLinePlugin, headerPlugin]
    });
}

ensembleChart('temp', 'Temperatuur 2m', tempControl, tempAverage, tempMembers, -15, 15, 5, { zeroLine: true });
ensembleChart('dew', 'Dauwpunt 2m', dewControl, dewAverage, dewMembers, -20, 15, 5);
ensembleChart('rain', 'Neerslag', rainControl, rainAverage, rainMembers, 0, 20, 2);
ensembleChart('wind', '10m wind', windControl, windAverage, windMembers, 0, 24, 2, {
    lines: windThresholds.map(v => ({ value: v, color: '#2f4f4f', dash: [2, 2] }))
});
ensembleChart('gust', '10m windstoten', gustControl, gustAverage, gustMembers, 0, 32, 2, {
    lines: [
        { value: gustThresholds[0], color: '#2f4f4f', dash: [2, 2] },
        { value: gustThresholds[1], color: '#ff40ff', dash: [6, 4] }
    ]
});

// cloud cover: grid between the steps
const cloudTicks = steps.slice(0, 59).map(i => i + 0.5);
const boxData = [];
cloudLow.forEach((lo, i) => {
    if (lo !== null) boxData.push({ x: i, y: [lo, cloudHigh[i]] });
});
const medianData = [];
cloudMedian.forEach((m, i) => {
    if (m !== null) medianData.push({ x: i, y: m });
});

new Chart(document.getElementById('cloud'), {
    type: 'bar',
    data: {
        datasets: [
            { type: 'line', data: toPoints(cloudControl), borderColor: controlColor, borderWidth: 2.6, pointRadius: 0, tension: 0, order: 0 },
            { type: 'line', data: medianData, showLine: false, pointStyle: 'line', pointRadius: 4.5, pointBorderColor: '#222', pointBorderWidth: 1.2, order: 1 },
            { type: 'bar', data: boxData, backgroundColor: '#ffffb3', borderColor: '#c6c6c0', borderWidth: 1.5, borderSkipped: false, barPercentage: 0.86, categoryPercentage: 1, grouped: false, order: 2 }
        ]
    },
    options: {
        responsive: false,
        animation: false,
        layout: { padding: { top: 20.8, right: 0, left: 0, bottom: 0 }, autoPadding: false },
        scales: {
            x: xAxis(59.0, cloudTicks, v => ((v - 1.5) % 4 === 0) ? dayLabels[(v - 1.5) / 4] : '', v => (v - 2.5) % 4 === 0),
            y: yAxis(0, 100, 10, false)
        },
        plugins: {
            legend: { display: false },
            tooltip: { enabled: false },
            header: { title: 'Bedekkingsgraad', kind: 'cloud' },
            refLines: { lines: [] }
        }
    },
    plugins: [refLinePlugin, headerPlugin]
});
</script>
</body>
</html>
